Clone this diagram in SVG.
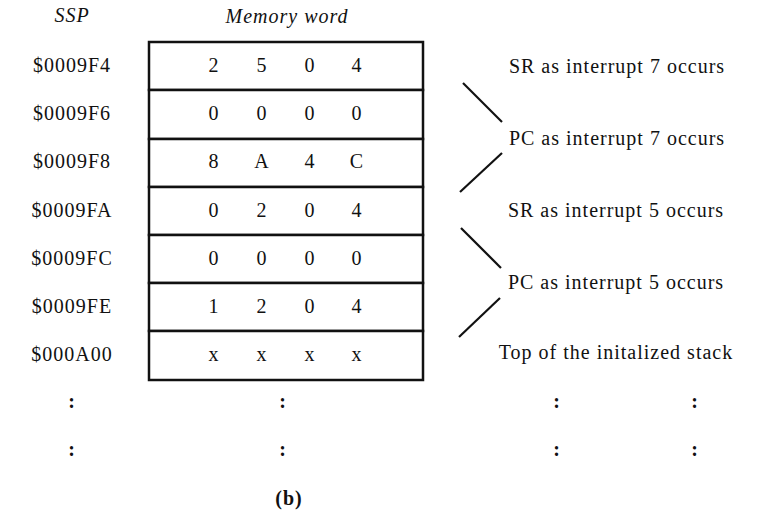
<svg xmlns="http://www.w3.org/2000/svg" width="763" height="513" viewBox="0 0 763 513">
<style>
text{font-family:"Liberation Serif","Times New Roman",serif;font-size:20px;fill:#111;letter-spacing:1px}
.c{text-anchor:middle}
.i{font-style:italic}
.b{font-weight:bold}
.cell{fill:#fff;stroke:#111;stroke-width:2.5}
.br{stroke:#111;stroke-width:2.2;fill:none}
</style>
<rect width="763" height="513" fill="#fff"/>
<g id="headers">
<text class="c i" x="72" y="22">SSP</text>
<text class="c i" x="287" y="23">Memory word</text>
</g>
<g id="row-0009F4">
<rect class="cell" x="149" y="42" width="274" height="48"/>
<text class="c" x="72" y="72">$0009F4</text>
<text class="c" x="214" y="72">2</text><text class="c" x="262" y="72">5</text><text class="c" x="310" y="72">0</text><text class="c" x="357" y="72">4</text>
</g>
<g id="row-0009F6">
<rect class="cell" x="149" y="90" width="274" height="49"/>
<text class="c" x="72" y="120">$0009F6</text>
<text class="c" x="214" y="120">0</text><text class="c" x="262" y="120">0</text><text class="c" x="310" y="120">0</text><text class="c" x="357" y="120">0</text>
</g>
<g id="row-0009F8">
<rect class="cell" x="149" y="139" width="274" height="48"/>
<text class="c" x="72" y="168">$0009F8</text>
<text class="c" x="214" y="168">8</text><text class="c" x="262" y="168">A</text><text class="c" x="310" y="168">4</text><text class="c" x="357" y="168">C</text>
</g>
<g id="row-0009FA">
<rect class="cell" x="149" y="187" width="274" height="48"/>
<text class="c" x="72" y="217">$0009FA</text>
<text class="c" x="214" y="217">0</text><text class="c" x="262" y="217">2</text><text class="c" x="310" y="217">0</text><text class="c" x="357" y="217">4</text>
</g>
<g id="row-0009FC">
<rect class="cell" x="149" y="235" width="274" height="48"/>
<text class="c" x="72" y="265">$0009FC</text>
<text class="c" x="214" y="265">0</text><text class="c" x="262" y="265">0</text><text class="c" x="310" y="265">0</text><text class="c" x="357" y="265">0</text>
</g>
<g id="row-0009FE">
<rect class="cell" x="149" y="283" width="274" height="48"/>
<text class="c" x="72" y="313">$0009FE</text>
<text class="c" x="214" y="313">1</text><text class="c" x="262" y="313">2</text><text class="c" x="310" y="313">0</text><text class="c" x="357" y="313">4</text>
</g>
<g id="row-000A00">
<rect class="cell" x="149" y="331" width="274" height="49"/>
<text class="c" x="72" y="361">$000A00</text>
<text class="c" x="214" y="361">x</text><text class="c" x="262" y="361">x</text><text class="c" x="310" y="361">x</text><text class="c" x="357" y="361">x</text>
</g>
<g id="labels">
<text class="c" x="617" y="73">SR as interrupt 7 occurs</text>
<text class="c" x="617" y="145">PC as interrupt 7 occurs</text>
<text class="c" x="616" y="217">SR as interrupt 5 occurs</text>
<text class="c" x="616" y="289">PC as interrupt 5 occurs</text>
<text class="c" x="616" y="359">Top of the initalized stack</text>
</g>
<g id="connectors">
<line class="br" x1="463" y1="83" x2="502" y2="122"/>
<line class="br" x1="502" y1="153" x2="460" y2="192"/>
<line class="br" x1="461" y1="228" x2="501" y2="268"/>
<line class="br" x1="500" y1="298" x2="459" y2="337"/>
</g>
<g id="ellipsis">
<text class="c b" x="72" y="408">:</text>
<text class="c b" x="283" y="408">:</text>
<text class="c b" x="557" y="408">:</text>
<text class="c b" x="695" y="408">:</text>
<text class="c b" x="72" y="456">:</text>
<text class="c b" x="283" y="456">:</text>
<text class="c b" x="557" y="456">:</text>
<text class="c b" x="695" y="456">:</text>
</g>
<g id="caption">
<text class="c b" x="289" y="505">(b)</text>
</g>
</svg>
